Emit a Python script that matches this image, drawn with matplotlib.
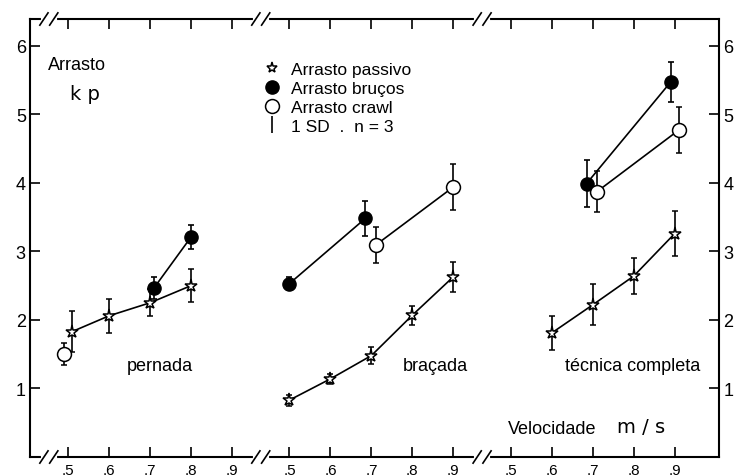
import numpy as np
import matplotlib
matplotlib.use('Agg')
import matplotlib.pyplot as plt
from matplotlib.lines import Line2D

plt.rcParams['font.family'] = ['Liberation Sans', 'DejaVu Sans']

# velocities (m/s), drag (kp) and 1 SD for each panel
# pernada
pern_pass_v = [0.51, 0.6, 0.7, 0.8]
pern_pass_y = [1.83, 2.06, 2.25, 2.50]
pern_pass_sd = [0.30, 0.25, 0.20, 0.24]
pern_bru_v = [0.71, 0.8]
pern_bru_y = [2.47, 3.21]
pern_bru_sd = [0.16, 0.18]
pern_crawl_v = [0.49]
pern_crawl_y = [1.50]
pern_crawl_sd = [0.16]
# braçada
bra_pass_v = [0.5, 0.6, 0.7, 0.8, 0.9]
bra_pass_y = [0.83, 1.14, 1.48, 2.07, 2.63]
bra_pass_sd = [0.08, 0.07, 0.13, 0.14, 0.22]
bra_bru_v = [0.5, 0.685]
bra_bru_y = [2.53, 3.48]
bra_bru_sd = [0.10, 0.26]
bra_crawl_v = [0.71, 0.9]
bra_crawl_y = [3.09, 3.94]
bra_crawl_sd = [0.26, 0.33]
# técnica completa
tec_pass_v = [0.6, 0.7, 0.8, 0.9]
tec_pass_y = [1.81, 2.22, 2.64, 3.26]
tec_pass_sd = [0.25, 0.30, 0.26, 0.33]
tec_bru_v = [0.685, 0.89]
tec_bru_y = [3.99, 5.47]
tec_bru_sd = [0.35, 0.29]
tec_crawl_v = [0.71, 0.91]
tec_crawl_y = [3.87, 4.77]
tec_crawl_sd = [0.30, 0.33]

vel_ticks = [0.5, 0.6, 0.7, 0.8, 0.9]
vel_labels = ['.5', '.6', '.7', '.8', '.9']
panel_names = ['pernada', 'braçada', 'técnica completa']

GAP = 5.4  # offset between panels on the shared x axis


def pos(g, v):
    return g * GAP + (np.asarray(v) - 0.5) * 10


fig = plt.figure(figsize=(7.37, 4.77), dpi=100)
ax = fig.add_axes([30 / 737, 1 - 458 / 477, 689 / 737, 438 / 477])

star = dict(marker='*', ms=9.5, mfc='white', mec='k', mew=1.1)
full = dict(marker='o', ms=9.5, mfc='k', mec='k')
hollow = dict(marker='o', ms=10, mfc='white', mec='k', mew=1.1)
eb = dict(color='k', lw=1.2, elinewidth=1.2, capsize=2.5, capthick=1.2)

series = [
    (0, pern_pass_v, pern_pass_y, pern_pass_sd, star),
    (0, pern_bru_v, pern_bru_y, pern_bru_sd, full),
    (0, pern_crawl_v, pern_crawl_y, pern_crawl_sd, hollow),
    (1, bra_pass_v, bra_pass_y, bra_pass_sd, star),
    (1, bra_bru_v, bra_bru_y, bra_bru_sd, full),
    (1, bra_crawl_v, bra_crawl_y, bra_crawl_sd, hollow),
    (2, tec_pass_v, tec_pass_y, tec_pass_sd, star),
    (2, tec_bru_v, tec_bru_y, tec_bru_sd, full),
    (2, tec_crawl_v, tec_crawl_y, tec_crawl_sd, hollow),
]
for g, v, y, sd, mk in series:
    ax.errorbar(pos(g, v), y, yerr=sd, zorder=3, **eb, **mk)

ax.set_xlim(-0.93, 15.88)
ax.set_ylim(0, 6.39)

xt = [p for g in range(3) for p in pos(g, vel_ticks)]
ax.set_xticks(xt)
ax.set_xticklabels(vel_labels * 3, fontsize=11)
ax.set_yticks([1, 2, 3, 4, 5, 6])
ax.set_yticklabels(['1', '2', '3', '4', '5', '6'], fontsize=13)
ax.tick_params(axis='x', direction='in', length=7, width=1.2, top=True, pad=4)
ax.tick_params(axis='y', direction='in', length=7, width=1.2, right=True,
               labelright=True, pad=3)
for s in ax.spines.values():
    s.set_linewidth(1.5)

# axis break marks "//" on top and bottom spines
tr = ax.get_xaxis_transform()
breaks = [-0.47, pos(0, 0.9) + 0.7, pos(1, 0.9) + 0.7]
for xb in breaks:
    for yb in (0, 1):
        ax.plot([xb - 0.15, xb + 0.15], [yb, yb], color='white', lw=3,
                transform=tr, clip_on=False, zorder=5)
        for dx in (-0.12, 0.12):
            ax.plot([xb + dx - 0.1, xb + dx + 0.1], [yb - 0.014, yb + 0.014],
                    color='k', lw=1.2, transform=tr, clip_on=False, zorder=6)

# texts
ax.text(-0.49, 5.72, 'Arrasto', fontsize=13, va='center')
ax.text(0.05, 5.30, 'k p', fontsize=14, va='center', family='DejaVu Sans')
for g, name in zip(range(3), panel_names):
    cx = [2.24, 8.95, 13.78][g]
    ax.text(cx, 1.34, name, fontsize=13, ha='center', va='center')
ax.text(10.73, 0.42, 'Velocidade', fontsize=13, va='center')
ax.text(13.4, 0.44, 'm / s', fontsize=14, va='center', family='DejaVu Sans')

# legend
h_err = ax.errorbar([], [], yerr=[], fmt='none', ecolor='k', elinewidth=1.2,
                    capsize=2.5, capthick=1.2)
handles = [Line2D([], [], ls='none', **{**star, 'ms': 8}),
           Line2D([], [], ls='none', **full),
           Line2D([], [], ls='none', **hollow),
           h_err]
labels = ['Arrasto passivo', 'Arrasto bruços', 'Arrasto crawl', '1 SD  .  n = 3']
ax.legend(handles, labels, loc='upper left', bbox_to_anchor=(255 / 737, 1 - 54 / 477),
          bbox_transform=fig.transFigure, frameon=False, fontsize=12.5,
          labelspacing=0.22, handlelength=1.0, handletextpad=0.6, borderpad=0)

fig.savefig('out.png', dpi=100)
